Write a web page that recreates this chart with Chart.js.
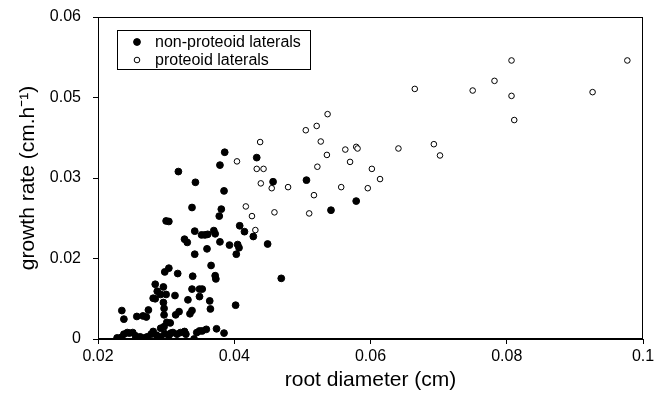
<!DOCTYPE html>
<html>
<head>
<meta charset="utf-8">
<script src="https://cdn.jsdelivr.net/npm/chart.js@4"></script>
<style>
  html, body { margin: 0; padding: 0; background: #fff; }
  #wrap { width: 664px; height: 396px; }
</style>
</head>
<body>
<div id="wrap"><canvas id="chart" width="664" height="396"></canvas></div>
<script>
// root diameter (cm) / growth rate (cm.h-1)
const nonProteoidX = [
    0.0386, 0.0433, 0.0379, 0.0318, 0.0343, 0.0385, 0.0457, 0.0506, 0.0542, 0.0579,
    0.0408, 0.0338, 0.0381, 0.0378, 0.0300, 0.0304, 0.0415, 0.0428, 0.0449, 0.0342,
    0.0352, 0.0357, 0.0361, 0.0370, 0.0372, 0.0327, 0.0331, 0.0379, 0.0393, 0.0405,
    0.0407, 0.0403, 0.0360, 0.0342, 0.0469, 0.0298, 0.0304, 0.0317, 0.0339, 0.0366,
    0.0372, 0.0373, 0.0284, 0.0296, 0.0287, 0.0292, 0.0300, 0.0281, 0.0313, 0.0338,
    0.0349, 0.0353, 0.0296, 0.0332, 0.0349, 0.0364, 0.0365, 0.0297, 0.0235, 0.0238,
    0.0257, 0.0266, 0.0271, 0.0274, 0.0297, 0.0301, 0.0306, 0.0314, 0.0319, 0.0335,
    0.0338, 0.0402, 0.0284, 0.0292, 0.0297,
    0.0228, 0.0234, 0.0238, 0.0243, 0.0246, 0.0251, 0.0255, 0.0257, 0.0262, 0.0268,
    0.0281, 0.0286, 0.0292, 0.0298, 0.0304, 0.0310, 0.0316, 0.0321, 0.0327, 0.0341,
    0.0345, 0.0349, 0.0353, 0.0359, 0.0374, 0.0385, 0.0231, 0.0272, 0.0278, 0.0329,
    0.0307
];
const nonProteoidY = [
    0.0348, 0.0338, 0.0324, 0.0312, 0.0292, 0.0276, 0.0293, 0.0296, 0.0240, 0.0257,
    0.0211, 0.0245, 0.0242, 0.0229, 0.0220, 0.0219, 0.0200, 0.0191, 0.0177, 0.0201,
    0.0194, 0.0194, 0.0195, 0.0202, 0.0196, 0.0186, 0.0180, 0.0181, 0.0175, 0.0176,
    0.0170, 0.0158, 0.0168, 0.0158, 0.0113, 0.0125, 0.0132, 0.0122, 0.0117, 0.0137,
    0.0118, 0.0112, 0.0102, 0.0097, 0.0089, 0.0083, 0.0083, 0.0076, 0.0081, 0.0093,
    0.0093, 0.0093, 0.0068, 0.0073, 0.0079, 0.0071, 0.0056, 0.0057, 0.0053, 0.0037,
    0.0042, 0.0043, 0.0041, 0.0054, 0.0045, 0.0031, 0.0030, 0.0045, 0.0051, 0.0047,
    0.0053, 0.0063, 0.0075, 0.0020, 0.0023,
    0.0002, 0.0003, 0.0009, 0.0012, 0.0011, 0.0012, 0.0006, 0.0001, 0.0004, 0.0002,
    0.0014, 0.0007, 0.0004, 0.0010, 0.0006, 0.0012, 0.0009, 0.0012, 0.0014, 0.0000,
    0.0012, 0.0015, 0.0015, 0.0018, 0.0019, 0.0011, 0.0000, 0.0004, 0.0009, 0.0009,
    0.0011
];
const proteoidX = [
    0.0977, 0.0807, 0.0782, 0.0665, 0.0750, 0.0807, 0.0926, 0.0811, 0.0693, 0.0702,
    0.0641, 0.0537, 0.0521, 0.0505, 0.0438, 0.0527, 0.0563, 0.0579, 0.0581, 0.0404,
    0.0536, 0.0570, 0.0433, 0.0443, 0.0522, 0.0602, 0.0614, 0.0439, 0.0455, 0.0479,
    0.0557, 0.0596, 0.0517, 0.0417, 0.0459, 0.0510, 0.0426, 0.0431
];
const proteoidY = [
    0.0519, 0.0519, 0.0481, 0.0466, 0.0463, 0.0453, 0.0460, 0.0408, 0.0363, 0.0342,
    0.0355, 0.0419, 0.0397, 0.0389, 0.0367, 0.0368, 0.0353, 0.0358, 0.0355, 0.0331,
    0.0343, 0.0330, 0.0317, 0.0317, 0.0321, 0.0317, 0.0298, 0.0290, 0.0281, 0.0283,
    0.0283, 0.0281, 0.0268, 0.0247, 0.0236, 0.0234, 0.0229, 0.0203
];
const seriesNames = ['non-proteoid laterals', 'proteoid laterals'];
const xTickLabels = ['0.02', '0.04', '0.06', '0.08', '0.1'];
// axis runs 0..0.06 in steps of 0.015, printed with two decimals
const yTickLabels = ['0', '0.02', '0.03', '0.05', '0.06'];

const FONT = 'Liberation Sans, Arial, Helvetica, sans-serif';

function toPoints(xs, ys) {
    return xs.map((x, i) => ({ x: x, y: ys[i] }));
}

// box around the plot and the little legend in the upper left
const framePlugin = {
    id: 'frame',
    afterDraw(chart) {
        const ctx = chart.ctx;
        const a = chart.chartArea;
        ctx.save();
        ctx.strokeStyle = '#000';
        ctx.lineWidth = 1;
        ctx.strokeRect(Math.round(a.left) + 0.5, Math.round(a.top) + 0.5,
            Math.round(a.right - a.left) - 1, Math.round(a.bottom - a.top) - 1);

        const lx = 117, ly = 30, lw = 193, lh = 39;
        ctx.fillStyle = '#fff';
        ctx.fillRect(lx, ly, lw, lh);
        ctx.strokeRect(lx + 0.5, ly + 0.5, lw, lh);
        ctx.font = '16px ' + FONT;
        ctx.textBaseline = 'middle';
        chart.data.datasets.forEach((ds, i) => {
            const cy = ly + 12 + i * 18;
            ctx.beginPath();
            ctx.arc(137, cy, ds.pointRadius, 0, Math.PI * 2);
            ctx.fillStyle = ds.backgroundColor;
            ctx.fill();
            ctx.lineWidth = ds.borderWidth;
            ctx.strokeStyle = ds.borderColor;
            ctx.stroke();
            ctx.fillStyle = '#000';
            ctx.fillText(ds.label, 155, cy + 1);
        });
        ctx.restore();
    }
};

const ctx = document.getElementById('chart').getContext('2d');
new Chart(ctx, {
    type: 'scatter',
    data: {
        datasets: [{
            label: seriesNames[0],
            data: toPoints(nonProteoidX, nonProteoidY),
            backgroundColor: '#000',
            borderColor: '#000',
            borderWidth: 1,
            pointRadius: 3.4
        }, {
            label: seriesNames[1],
            data: toPoints(proteoidX, proteoidY),
            backgroundColor: '#fff',
            borderColor: '#000',
            borderWidth: 1,
            pointRadius: 2.8
        }]
    },
    options: {
        responsive: false,
        animation: false,
        layout: { autoPadding: false, padding: { top: 17, right: 21, left: 0, bottom: 0 } },
        plugins: {
            legend: { display: false },
            tooltip: { enabled: false }
        },
        scales: {
            x: {
                type: 'linear',
                min: 0.02,
                max: 0.1,
                afterFit: s => { s.height = 57; },
                afterBuildTicks: s => {
                    s.ticks = xTickLabels.map(t => ({ value: parseFloat(t) }));
                },
                ticks: {
                    color: '#000',
                    font: { family: FONT, size: 16 },
                    padding: 3,
                    maxRotation: 0,
                    callback: (v, i) => xTickLabels[i]
                },
                grid: { drawOnChartArea: false, tickLength: 5, color: '#000' },
                border: { color: '#000' },
                title: {
                    display: true,
                    text: 'root diameter (cm)',
                    color: '#000',
                    font: { family: FONT, size: 21 },
                    padding: { top: 0, bottom: 3 }
                }
            },
            y: {
                min: 0,
                max: 0.06,
                afterFit: s => {
                    s.width = 98;
                    // tick padding would otherwise push the plot top down
                    s.paddingTop = 9;
                    s.paddingBottom = 9;
                },
                afterBuildTicks: s => {
                    s.ticks = yTickLabels.map((t, i) => ({ value: i * 0.015 }));
                },
                ticks: {
                    color: '#000',
                    font: { family: FONT, size: 16 },
                    padding: 12,
                    callback: (v, i) => yTickLabels[i]
                },
                grid: { drawOnChartArea: false, tickLength: 5, color: '#000' },
                border: { color: '#000' },
                title: {
                    display: true,
                    text: 'growth rate (cm.h\u207B\u00B9)',
                    color: '#000',
                    font: { family: FONT, size: 21 },
                    padding: { top: 16, bottom: 0 }
                }
            }
        }
    },
    plugins: [framePlugin]
});
</script>
</body>
</html>
